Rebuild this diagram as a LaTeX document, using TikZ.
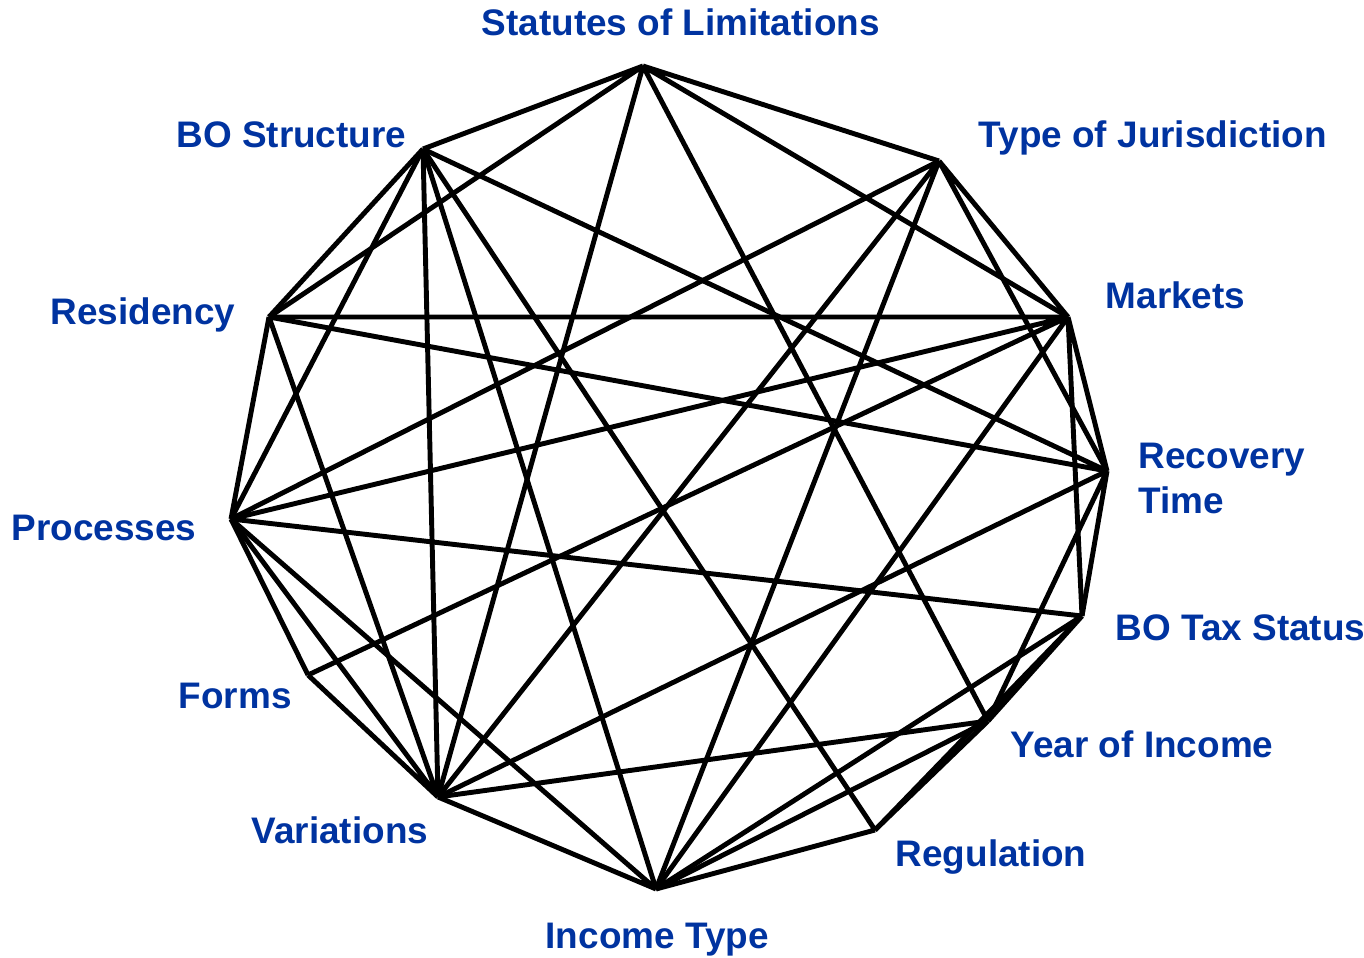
\documentclass[tikz,border=0pt]{standalone}
\usepackage{fontspec}
\setmainfont{Liberation Sans}
\usepackage{xcolor}
\usepackage{tikz}
\usetikzlibrary{positioning,calc}

\definecolor{lblblue}{RGB}{0,51,160}

\begin{document}
\begin{tikzpicture}[x=0.01cm, y=-0.01cm,
    edge/.style={line width=1.4pt, black},
    lbl/.style={font=\fontsize{10.5}{12.6}\selectfont\bfseries, text=lblblue, inner sep=0pt}]
    \useasboundingbox (0,0) rectangle (1364,958);

    % Vertices
    \coordinate (sol) at (643,66);
    \coordinate (toj) at (939,161);
    \coordinate (mkt) at (1068,317);
    \coordinate (rec) at (1107,471);
    \coordinate (bts) at (1082,616);
    \coordinate (yoi) at (988,721);
    \coordinate (reg) at (875,830);
    \coordinate (inc) at (656,889);
    \coordinate (var) at (438,797);
    \coordinate (frm) at (308,675);
    \coordinate (proc) at (231,519);
    \coordinate (res) at (269,317);
    \coordinate (bos) at (423,149);

    % Labels
    \node[lbl, anchor=base west] (sol-l) at (481,36) {Statutes of Limitations};
    \node[lbl, anchor=base east] (bos-l) at (407,148) {BO Structure};
    \node[lbl, anchor=base west] (toj-l) at (978,148) {Type of Jurisdiction};
    \node[lbl, anchor=base west] (res-l) at (50,324) {Residency};
    \node[lbl, anchor=base west] (mkt-l) at (1105,309) {Markets};
    \node[lbl, anchor=base west, align=left] (rec-l) at (1138,513) {Recovery\\Time};
    \node[lbl, anchor=base west] (proc-l) at (11,540) {Processes};
    \node[lbl, anchor=base west] (bts-l) at (1115,640) {BO Tax Status};
    \node[lbl, anchor=base west] (frm-l) at (178,708) {Forms};
    \node[lbl, anchor=base west] (yoi-l) at (1010,757) {Year of Income};
    \node[lbl, anchor=base west] (var-l) at (251,843) {Variations};
    \node[lbl, anchor=base west] (reg-l) at (895,866) {Regulation};
    \node[lbl, anchor=base west] (inc-l) at (545,948) {Income Type};

    % Edges, grouped by first vertex
    \draw[edge] (sol) -- (toj) (sol) -- (mkt) (sol) -- (yoi) (sol) -- (var) (sol) -- (res) (sol) -- (bos);
    \draw[edge] (toj) -- (mkt) (toj) -- (rec) (toj) -- (inc) (toj) -- (var) (toj) -- (proc);
    \draw[edge] (mkt) -- (rec) (mkt) -- (bts) (mkt) -- (inc) (mkt) -- (frm) (mkt) -- (proc) (mkt) -- (res);
    \draw[edge] (rec) -- (bts) (rec) -- (yoi) (rec) -- (var) (rec) -- (res) (rec) -- (bos);
    \draw[edge] (bts) -- (yoi) (bts) -- (reg) (bts) -- (inc) (bts) -- (proc);
    \draw[edge] (yoi) -- (reg) (yoi) -- (inc) (yoi) -- (var);
    \draw[edge] (reg) -- (inc) (reg) -- (bos);
    \draw[edge] (inc) -- (var) (inc) -- (proc) (inc) -- (bos);
    \draw[edge] (var) -- (frm) (var) -- (proc) (var) -- (res) (var) -- (bos);
    \draw[edge] (frm) -- (proc);
    \draw[edge] (proc) -- (res) (proc) -- (bos);
    \draw[edge] (res) -- (bos);
\end{tikzpicture}
\end{document}
